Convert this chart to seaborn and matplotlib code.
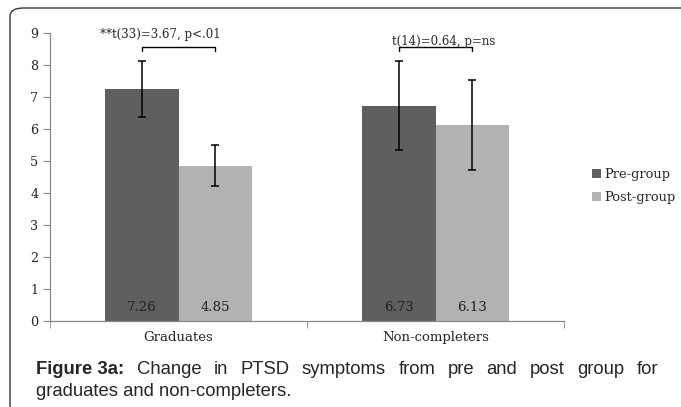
import numpy as np
import pandas as pd
import matplotlib
matplotlib.use("Agg")
import matplotlib.pyplot as plt
from matplotlib.patches import FancyBboxPatch
import seaborn as sns

# ---- data ----
groups = ["Graduates", "Non-completers"]
phases = ["Pre-group", "Post-group"]
pre_means = [7.26, 6.73]
post_means = [4.85, 6.13]
pre_err = [0.87, 1.38]
post_err = [0.64, 1.40]
stat_labels = ["**t(33)=3.67, p<.01", "t(14)=0.64, p=ns"]
caption_bold = "Figure 3a:"
caption_line1 = "Change in PTSD symptoms from pre and post group for"
caption_line2 = "graduates and non-completers."

df = pd.DataFrame({
    "group": groups * 2,
    "phase": [phases[0]] * 2 + [phases[1]] * 2,
    "score": pre_means + post_means,
    "err": pre_err + post_err,
})

colors = {"Pre-group": "#5f5f5f", "Post-group": "#b2b2b2"}
serif = "DejaVu Serif"

sns.set_style("white")
fig = plt.figure(figsize=(6.81, 4.07), dpi=100)
ax = fig.add_axes([50 / 681, 86 / 407, 514 / 681, 288 / 407])

sns.barplot(data=df, x="group", y="score", hue="phase", hue_order=phases,
            palette=colors, width=0.57, errorbar=None, saturation=1,
            edgecolor="none", ax=ax)

# error bars + value labels, placed on seaborn's own bars
bars = ax.patches[:4]
centers = {}
for bar, (_, row) in zip(bars, df.iterrows()):
    cx = bar.get_x() + bar.get_width() / 2
    centers[(row["group"], row["phase"])] = cx
    ax.errorbar(cx, row["score"], yerr=row["err"], fmt="none", ecolor="black",
                elinewidth=1.1, capsize=3, capthick=1.1)
    ax.text(cx, 0.42, f"{row['score']:.2f}", ha="center", va="center",
            fontsize=9.6, family=serif, color="#222222")

# significance brackets
text_y = [8.95, 8.72]
for i, g in enumerate(groups):
    x1 = centers[(g, phases[0])]
    x2 = centers[(g, phases[1])]
    ax.plot([x1, x1, x2, x2], [8.44, 8.56, 8.56, 8.44], color="black", lw=1,
            clip_on=False)
    ax.text((x1 + x2) / 2 + (-0.07 if i == 0 else 0.03), text_y[i], stat_labels[i],
            ha="center", va="center", fontsize=8.5, family=serif, clip_on=False)

ax.set_ylim(0, 9)
ax.set_xlim(-0.5, 1.5)
ax.set_yticks(range(10))
ax.set_xlabel("")
ax.set_ylabel("")
sns.despine(ax=ax)
for s in ["left", "bottom"]:
    ax.spines[s].set_color("#888888")
    ax.spines[s].set_linewidth(0.9)
ax.tick_params(axis="y", which="major", left=True, length=5, color="#888888",
               labelsize=9.2)
ax.tick_params(axis="x", which="major", length=0, pad=7, labelsize=9.5)
ax.set_xticks([-0.5, 0.5, 1.5], minor=True)
ax.tick_params(axis="x", which="minor", bottom=True, length=5, color="#888888")
for lab in ax.get_xticklabels() + ax.get_yticklabels():
    lab.set_family(serif)

# legend to the right
handles, labels = ax.get_legend_handles_labels()
ax.legend(handles, labels, loc="center left", bbox_to_anchor=(580 / 681, 1 - 186 / 407),
          bbox_transform=fig.transFigure, frameon=False, prop={"family": serif, "size": 9.4},
          handlelength=0.7, handleheight=0.7, handletextpad=0.3, labelspacing=0.75)

# rounded frame (open off the right and bottom edges)
frame = FancyBboxPatch((10 / 681, -0.2), 1.2, 0.2 + (1 - 8 / 407),
                       boxstyle="round,pad=0,rounding_size=0.02",
                       transform=fig.transFigure, fill=False, edgecolor="#3a3a3a",
                       linewidth=1.0)
fig.patches.append(frame)

# justified caption, line 1 spread between left and right edges
fig.canvas.draw()
renderer = fig.canvas.get_renderer()
left_px, right_px = 36, 658
y1 = 1 - 370 / 407
y2 = 1 - 392 / 407
cap = {"family": "Liberation Sans", "size": 13.3}
words = [(caption_bold, "bold")] + [(w, "normal") for w in caption_line1.split()]
items = []
total = 0
for w, wt in words:
    t = fig.text(0, y1, w, fontweight=wt, va="center", ha="left", **cap)
    wpx = t.get_window_extent(renderer).width
    items.append((t, wpx))
    total += wpx
gap = (right_px - left_px - total) / (len(items) - 1)
x = left_px
for t, wpx in items:
    t.set_x(x / 681)
    x += wpx + gap
fig.text(left_px / 681, y2, caption_line2, va="center", ha="left", **cap)

fig.savefig("out.png", dpi=100)
